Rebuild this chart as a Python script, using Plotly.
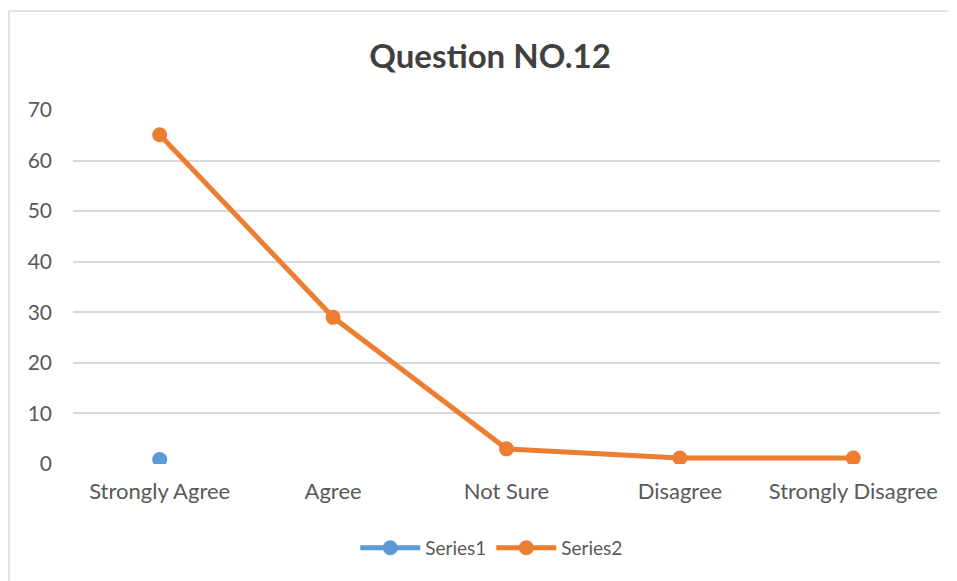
import plotly.graph_objects as go

categories = ["Strongly Agree", "Agree", "Not Sure", "Disagree", "Strongly Disagree"]
series1 = [0.9, None, None, None, None]
series2 = [65.1, 29.0, 3.0, 1.2, 1.2]

BLUE = "#5B9BD5"
ORANGE = "#ED7D31"
TEXT = "#595959"
FONT = "Lato, Open Sans, sans-serif"

fig = go.Figure()
fig.add_trace(go.Scatter(
    x=categories, y=series1, name="Series1", mode="lines+markers",
    line=dict(color=BLUE, width=5),
    marker=dict(size=15, color=BLUE),
))
fig.add_trace(go.Scatter(
    x=categories, y=series2, name="Series2", mode="lines+markers",
    line=dict(color=ORANGE, width=5),
    marker=dict(size=15, color=ORANGE),
))

# light gray chart border (left/top visible, right/bottom run off the page)
fig.add_shape(type="rect", xref="paper", yref="paper",
              x0=-0.0738, x1=1.023, y0=-0.356, y1=1.2797,
              line=dict(color="#D9D9D9", width=1.5), layer="below")

# the page body adds an 8px offset, so the margins are shifted to compensate
fig.update_layout(
    width=957, height=581,
    margin=dict(l=65, r=25, t=102, b=125),
    paper_bgcolor="white", plot_bgcolor="white",
    font=dict(family=FONT, color=TEXT, size=21),
    title=dict(text="<b>Question NO.12</b>", x=0.481, xanchor="center",
               xref="paper", yref="container", y=0.917, yanchor="middle",
               font=dict(size=33, color="#404040", family=FONT)),
    showlegend=True,
    legend=dict(orientation="h", x=0.483, xanchor="center", y=-0.237, yanchor="middle",
                font=dict(size=19, color=TEXT), itemwidth=60),
)
fig.update_xaxes(type="category", range=[-0.5, 4.5], showgrid=False,
                 showline=False, zeroline=False, ticks="",
                 tickfont=dict(size=22, color=TEXT), ticklabelstandoff=12)
fig.update_yaxes(range=[0, 70], dtick=10, showgrid=True, gridcolor="#D9D9D9",
                 gridwidth=1.5, zeroline=False, showline=False,
                 tickfont=dict(size=21, color=TEXT), ticklabelstandoff=20)

fig.write_html("out.html")
